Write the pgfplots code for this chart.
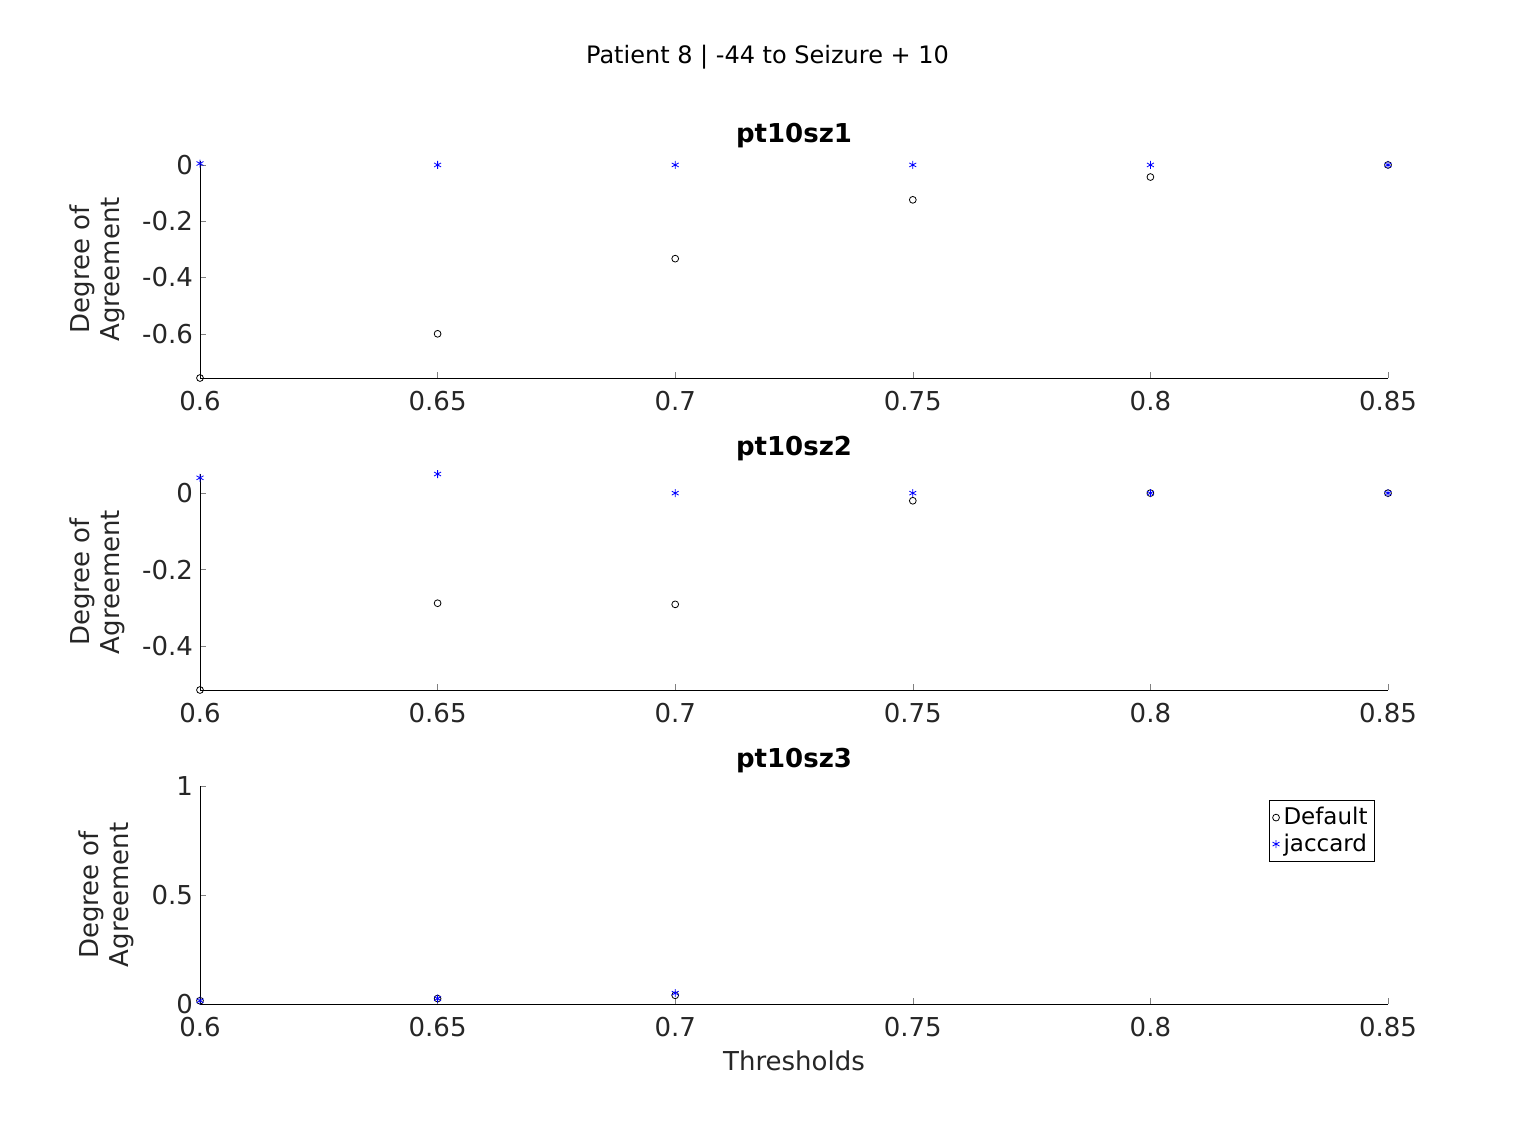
\documentclass[border=0pt]{standalone}
\usepackage{pgfplots}
\pgfplotsset{compat=1.18}
\usepackage{fontspec}
\setmainfont{DejaVu Sans}
\definecolor{tc}{gray}{0.15}
\pgfplotsset{
  p/.style={scale only axis, width=594pt, xmin=0.6, xmax=0.85,
    axis x line*=bottom, axis y line*=left, tick align=inside,
    xtick={0.6,0.65,0.7,0.75,0.8,0.85},
    xticklabels={0.6,0.65,0.7,0.75,0.8,0.85},
    /pgf/number format/assume math mode=true,
    tick label style={font=\fontsize{13}{15}\selectfont, color=tc},
    xticklabel style={yshift=-3pt},
    label style={font=\fontsize{13}{15}\selectfont, color=tc},
    title style={font=\fontsize{13}{15}\selectfont\bfseries, yshift=-3pt},
    ylabel={Degree of\\Agreement}, ylabel style={align=center, yshift=2pt},
    every axis plot/.append style={only marks},
    major tick length=3pt, axis line style={line width=0.4pt},
    anchor=south west},
  d/.style={black, mark=o, mark size=1.7pt, mark options={line width=0.4pt}},
  j/.style={blue, mark=asterisk, mark size=2pt, mark options={line width=0.4pt}},
}
\begin{document}
\begin{tikzpicture}
\path (0,0) rectangle (767.5pt,560.5pt);
\node[font=\fontsize{12}{14}\selectfont] at (383.75pt,532pt) {Patient 8 | -44 to Seizure + 10};
\begin{axis}[p, at={(100pt,371.5pt)}, height=108.5pt, ymin=-0.757, ymax=0.014,
  ytick={-0.6,-0.4,-0.2,0}, yticklabels={-0.6,-0.4,-0.2,0}, title={pt10sz1}]
\addplot[d] coordinates {(0.6,-0.757)(0.65,-0.60)(0.7,-0.333)(0.75,-0.124)(0.8,-0.043)(0.85,0)};
\addplot[j] coordinates {(0.6,0.005)(0.65,0)(0.7,0)(0.75,0)(0.8,0)(0.85,0)};
\end{axis}
\begin{axis}[p, at={(100pt,215.5pt)}, height=108pt, ymin=-0.515, ymax=0.05,
  ytick={-0.4,-0.2,0}, yticklabels={-0.4,-0.2,0}, title={pt10sz2}]
\addplot[d] coordinates {(0.6,-0.515)(0.65,-0.288)(0.7,-0.291)(0.75,-0.02)(0.8,0)(0.85,0)};
\addplot[j] coordinates {(0.6,0.04)(0.65,0.05)(0.7,0)(0.75,0)(0.8,0)(0.85,0)};
\end{axis}
\begin{axis}[p, at={(100pt,58.5pt)}, height=109pt, ymin=0, ymax=1,
  ytick={0,0.5,1}, yticklabels={0,0.5,1}, title={pt10sz3}, xlabel={Thresholds},
  xlabel style={yshift=0pt},
  legend style={at={(0.989,0.936)}, anchor=north east, font=\fontsize{11.5}{13}\selectfont,
    inner sep=1.5pt, row sep=-1pt, cells={anchor=west}, legend image post style={xshift=2pt}}]
\addplot[d] coordinates {(0.6,0.015)(0.65,0.025)(0.7,0.04)(0.75,-0.003)(0.8,-0.003)(0.85,-0.003)};
\addplot[j] coordinates {(0.6,0.015)(0.65,0.025)(0.7,0.05)(0.75,-0.003)(0.8,-0.003)(0.85,-0.003)};
\legend{Default,jaccard}
\end{axis}
\end{tikzpicture}
\end{document}
